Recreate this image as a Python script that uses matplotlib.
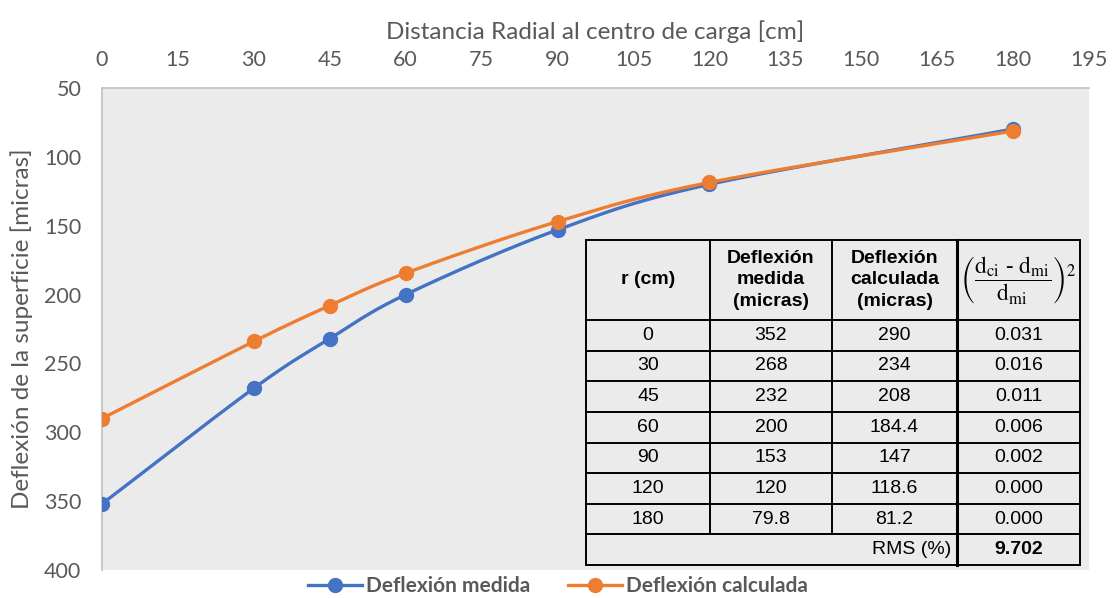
import numpy as np
import matplotlib
matplotlib.use("Agg")
import matplotlib.pyplot as plt
from matplotlib.patches import Rectangle
from matplotlib.lines import Line2D

# ---- data ----
r_cm = [0, 30, 45, 60, 90, 120, 180]
defl_medida = [352, 268, 232, 200, 153, 120, 79.8]
defl_calculada = [290, 234, 208, 184.4, 147, 118.6, 81.2]
ratio_sq = ["0.031", "0.016", "0.011", "0.006", "0.002", "0.000", "0.000"]
rms_value = "9.702"
x_ticks = list(range(0, 196, 15))
y_ticks = [50, 100, 150, 200, 250, 300, 350, 400]

BLUE = "#4472C4"
ORANGE = "#ED7D31"
GRAY_TXT = "#595959"

def smooth(x, y, n=30):
    """Catmull-Rom curve through the points (rendering like Excel smoothed lines)."""
    x = np.asarray(x, float); y = np.asarray(y, float)
    P = np.column_stack([x, y])
    P = np.vstack([2 * P[0] - P[1], P, 2 * P[-1] - P[-2]])
    out = []
    for i in range(1, len(P) - 2):
        p0, p1, p2, p3 = P[i - 1], P[i], P[i + 1], P[i + 2]
        t = np.linspace(0, 1, n, endpoint=False)[:, None]
        pts = 0.5 * ((2 * p1) + (-p0 + p2) * t + (2 * p0 - 5 * p1 + 4 * p2 - p3) * t ** 2
                     + (-p0 + 3 * p1 - 3 * p2 + p3) * t ** 3)
        out.append(pts)
    out.append(P[-2][None, :])
    out = np.vstack(out)
    return out[:, 0], out[:, 1]

W, H = 1112, 598
fig = plt.figure(figsize=(W / 100, H / 100), dpi=100)
ax = fig.add_axes([102 / W, 1 - 570 / H, (1089 - 102) / W, (570 - 88) / H])
ax.set_facecolor("#EBEBEB")

for ys, col in [(defl_medida, BLUE), (defl_calculada, ORANGE)]:
    sx, sy = smooth(r_cm, ys)
    ax.plot(sx, sy, color=col, lw=2.4, solid_capstyle="round", zorder=3)
    ax.plot(r_cm, ys, "o", color=col, ms=10, zorder=4)

ax.set_xlim(0, 195)
ax.set_ylim(400, 50)
ax.set_xticks(x_ticks)
ax.set_yticks(y_ticks)
ax.xaxis.tick_top()
ax.xaxis.set_label_position("top")
ax.tick_params(length=0, labelsize=15.5, labelcolor=GRAY_TXT)
ax.tick_params(axis="x", pad=13)
ax.tick_params(axis="y", pad=15)
for lbl in ax.get_xticklabels() + ax.get_yticklabels():
    lbl.set_fontfamily("Lato")
for s in ["bottom", "right"]:
    ax.spines[s].set_visible(False)
for s in ["top", "left"]:
    ax.spines[s].set_color("#BFBFBF")
    ax.spines[s].set_linewidth(1.2)
ax.set_xlabel("Distancia Radial al centro de carga [cm]", fontsize=17.5,
              color=GRAY_TXT, family="Lato", labelpad=8)
ax.set_ylabel("Deflexión de la superficie [micras]", fontsize=17.5,
              color=GRAY_TXT, family="Lato", labelpad=8)

# ---- table (figure pixel coordinates) ----
def fx(px): return px / W
def fy(py): return 1 - py / H

cols = [586, 710, 832, 957, 1080]
rows = [240, 320] + [320 + (565 - 320) / 8 * (i + 1) for i in range(8)]
tf = dict(fontsize=14, family="Liberation Sans", color="black",
          ha="center", va="center")
lw = 1.4
fig.add_artist(Rectangle((fx(cols[0]), fy(rows[-1])), fx(cols[-1]) - fx(cols[0]),
                         fy(rows[0]) - fy(rows[-1]), fill=False, lw=lw,
                         edgecolor="black", transform=fig.transFigure))
for ry in rows[1:-1]:
    fig.add_artist(Line2D([fx(cols[0]), fx(cols[-1])], [fy(ry), fy(ry)],
                          color="black", lw=lw))
for i, cx in enumerate(cols[1:-1]):
    bottom = rows[-2] if i < 2 else rows[-1]
    fig.add_artist(Line2D([fx(cx), fx(cx)], [fy(rows[0]), fy(bottom)],
                          color="black", lw=lw if i < 2 else 2.2))
hy = fy((rows[0] + rows[1]) / 2)
cxs = [(cols[i] + cols[i + 1]) / 2 for i in range(4)]
headers = ["r (cm)", "Deflexión\nmedida\n(micras)", "Deflexión\ncalculada\n(micras)"]
for i, h in enumerate(headers):
    fig.text(fx(cxs[i]), hy, h, fontweight="bold", linespacing=1.35, **tf)
fig.text(fx(cxs[3]), hy,
         r"$\left(\dfrac{\mathrm{d}_{\mathrm{ci}}\ \text{-}\ \mathrm{d}_{\mathrm{mi}}}{\mathrm{d}_{\mathrm{mi}}}\right)^{2}$",
         fontsize=17, ha="center", va="center", math_fontfamily="stix")
for j in range(7):
    yy = fy((rows[j + 1] + rows[j + 2]) / 2)
    vals = [str(r_cm[j]), f"{defl_medida[j]:g}", f"{defl_calculada[j]:g}", ratio_sq[j]]
    for i, v in enumerate(vals):
        fig.text(fx(cxs[i]), yy, v, **tf)
yy = fy((rows[-2] + rows[-1]) / 2)
fig.text(fx(cols[3] - 6), yy, "RMS (%)", **{**tf, "ha": "right"})
fig.text(fx(cxs[3]), yy, rms_value, fontweight="bold", **tf)

# ---- legend ----
handles = [Line2D([], [], color=BLUE, lw=2.4, marker="o", ms=10),
           Line2D([], [], color=ORANGE, lw=2.4, marker="o", ms=10)]
fig.legend(handles, ["Deflexión medida", "Deflexión calculada"], loc="center",
           bbox_to_anchor=(0.502, fy(586)), ncol=2, frameon=False,
           prop=dict(family="Lato", weight="bold", size=15), labelcolor=GRAY_TXT,
           handlelength=2.6, columnspacing=1.8, handletextpad=0.2)

fig.savefig("out.png", dpi=100)
